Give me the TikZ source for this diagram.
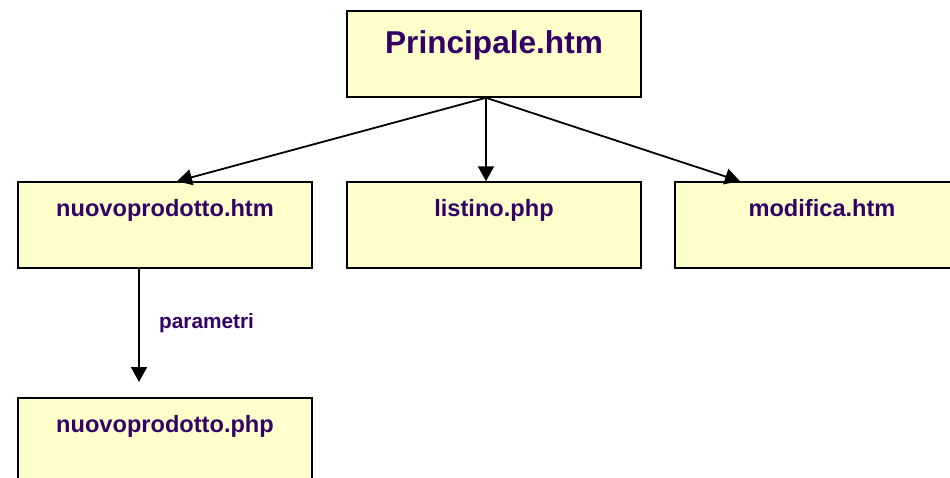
\documentclass[tikz,border=0pt]{standalone}
\usepackage{fontspec}
\setmainfont{Liberation Sans}
\usetikzlibrary{arrows.meta,calc}
\definecolor{boxfill}{RGB}{255,255,204}
\definecolor{txt}{RGB}{51,0,102}
\tikzset{
  filebox/.style={draw=black,line width=1.5pt,fill=boxfill,inner sep=0pt,
    minimum width=294pt,text width=294pt,align=center,text=txt,
    font=\bfseries\fontsize{23.6}{26}\selectfont,text height=34pt,text depth=52pt},
  mainbox/.style={filebox,font=\bfseries\fontsize{31.6}{34}\selectfont,text height=42pt,text depth=44pt},
  link/.style={line width=1.8pt,-{Triangle[length=15pt,width=16pt]}}
}
\begin{document}
\begin{tikzpicture}[x=1pt,y=-1pt]
\useasboundingbox (0,0) rectangle (950,477);
\node[mainbox] (main) at (494,54) {Principale.htm};
\node[filebox] (nuovo) at (165,225) {nuovoprodotto.htm};
\node[filebox] (listino) at (494,225) {listino.php};
\node[filebox] (modifica) at (822,225) {modifica.htm};
\node[filebox] (nuovophp) at (165,441) {nuovoprodotto.php};
\coordinate (hub) at ($(main.south)+(-8,0)$);
\draw[link] (hub) -- ($(nuovo.north)+(12,0)$);
\draw[link] (hub) -- ($(listino.north)+(-8,0)$);
\draw[link] (hub) -- ($(modifica.north)+(-82,0)$);
\coordinate (downend) at (139,382);
\draw[link] ($(nuovo.south)+(-26,0)$) -- (downend);
\node[anchor=base west,inner sep=0pt,text=txt,font=\bfseries\fontsize{20.8}{24}\selectfont] (param) at (159,328) {parametri};
\end{tikzpicture}
\end{document}
